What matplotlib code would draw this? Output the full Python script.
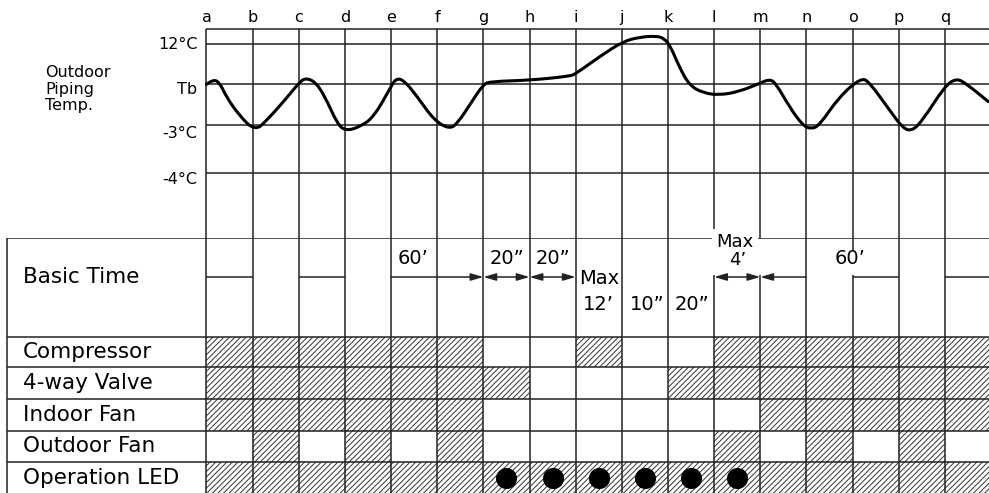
import numpy as np
import matplotlib.pyplot as plt
from matplotlib.path import Path
from matplotlib.patches import PathPatch

plt.rcParams['font.family'] = ['DejaVu Sans']
plt.rcParams['hatch.linewidth'] = 0.7

# time marks a..r (one unit per interval)
letters = list("abcdefghijklmnopqr")

# temperature levels (arbitrary level units)
temp_labels = ["12°C", "Tb", "-3°C", "-4°C"]
temp_lines = [3.0, 2.0, 1.0, -0.2]
temp_label_y = [3.0, 1.88, 0.79, -0.35]

# outdoor piping temperature
curve_x = [0, 0.15, 0.29, 0.43, 0.7, 1.05, 1.31, 1.7, 2.0, 2.14, 2.36, 2.57, 2.83,
           3.01, 3.34, 3.63, 3.96, 4.1, 4.28, 4.57, 4.93, 5.26, 5.44, 5.75, 6.0,
           6.16, 7.0, 7.87, 8.0, 8.52, 9.02, 9.38, 9.74, 9.92, 10.06, 10.24, 10.46,
           10.75, 11.11, 11.54, 11.98, 12.2, 12.34, 12.63, 12.92, 13.1, 13.28,
           13.71, 14.18, 14.36, 14.8, 15.09, 15.29, 15.52, 15.99, 16.24, 16.46, 16.94]
curve_y = [2.0, 2.13, 2.03, 1.69, 1.24, 0.84, 1.11, 1.61, 2.03, 2.16, 2.06, 1.69, 1.03,
           0.84, 0.95, 1.2, 1.86, 2.15, 2.1, 1.69, 1.11, 0.89, 1.03, 1.57, 2.0,
           2.07, 2.1, 2.2, 2.26, 2.69, 3.06, 3.17, 3.2, 3.14, 2.93, 2.44, 1.98,
           1.79, 1.73, 1.82, 2.02, 2.13, 2.02, 1.44, 0.98, 0.89, 0.98,
           1.69, 2.16, 2.06, 1.36, 0.91, 0.84, 1.11, 1.94, 2.15, 2.02, 1.57]

# table rows and on/off states per interval (a-b ... q-r)
row_names = ["Basic Time", "Compressor", "4-way Valve", "Indoor Fan",
             "Outdoor Fan", "Operation LED"]
compressor = [1, 1, 1, 1, 1, 1, 0, 0, 1, 0, 0, 1, 1, 1, 1, 1, 1]
four_way = [1, 1, 1, 1, 1, 1, 1, 0, 0, 0, 1, 1, 1, 1, 1, 1, 1]
indoor_fan = [1, 1, 1, 1, 1, 1, 0, 0, 0, 0, 0, 0, 1, 1, 1, 1, 1]
outdoor_fan = [0, 1, 0, 1, 0, 1, 0, 0, 0, 0, 0, 1, 0, 1, 0, 1, 0]
op_led = [1] * 17
led_blink = [0, 0, 0, 0, 0, 0, 1, 1, 1, 1, 1, 1, 0, 0, 0, 0, 0]

# basic time row: plain bars, arrows and texts
plain_bars = [(0, 1), (2, 3), (14, 15), (16, 17)]
arrows = [(4, 6, '-|>'), (6, 7, '<|-|>'), (7, 8, '<|-|>'), (11, 12, '<|-|>'), (13, 12, '-|>')]
time_texts = [(4.47, 21, "60’"), (6.5, 21, "20”"), (7.5, 21, "20”"),
              (8.5, 40, "Max"), (8.5, 66, "12’"), (9.55, 66, "10”"),
              (10.52, 66, "20”"), (13.94, 20, "60’")]

# layout (pixels of the 989x493 picture)
W, H = 989, 493
x0, unit = 206.5, 46.15
xlim = (-x0 / unit, (W - x0) / unit)
left_edge = (7 - x0) / unit
row_edges = [0, 99, 129, 161, 193, 224, 256]
lc = '#222222'
lw = 1.1

fig = plt.figure(figsize=(W / 100, H / 100), dpi=100)
ax_t = fig.add_axes([0, (H - 238) / H, 1, 238 / H])
ax_b = fig.add_axes([0, 0, 1, 255 / H])
for ax in (ax_t, ax_b):
    ax.set_xlim(*xlim)
    ax.axis('off')
    ax.patch.set_alpha(0)

# ---- temperature chart ----
top_line = 3.372
ax_t.set_ylim(-1.814, 4.092)
ax_t.vlines(range(18), -1.814, top_line, color=lc, lw=lw)
ax_t.hlines([top_line] + temp_lines, 0, 17.5, color=lc, lw=lw)

# smooth curve: quadratic bezier through the midpoints of the read points
pts = np.column_stack([curve_x, curve_y])
verts = [pts[0]]
codes = [Path.MOVETO]
for i in range(1, len(pts) - 1):
    verts += [pts[i], (pts[i] + pts[i + 1]) / 2]
    codes += [Path.CURVE3, Path.CURVE3]
verts.append(pts[-1])
codes.append(Path.LINETO)
ax_t.add_patch(PathPatch(Path(verts, codes), fill=False, ec='black', lw=2.2,
                         joinstyle='round', capstyle='round', zorder=3))

for lab, y in zip(temp_labels, temp_label_y):
    ax_t.text(-0.2, y, lab, ha='right', va='center', fontsize=11.5)
for i, s in enumerate(letters):
    ax_t.text(i, 3.67, s, ha='center', va='center', fontsize=11.5)
ax_t.text(-3.5, 1.88, "Outdoor\nPiping\nTemp.", ha='left', va='center',
          fontsize=11.5, linespacing=1.15)

# ---- table ----
ax_b.set_ylim(255, 0)
ax_b.hlines(row_edges[:-1], left_edge, 17.5, color=lc, lw=lw)
ax_b.vlines(left_edge, 0, 256, color=lc, lw=lw)
ax_b.vlines(range(18), 99, 256, color=lc, lw=lw)
for i in range(18):
    if i in (11, 12):
        segs = [(37, 99)]
    elif i == 14:
        segs = [(0, 12), (37, 99)]
    else:
        segs = [(0, 99)]
    for y1, y2 in segs:
        ax_b.vlines(i, y1, y2, color=lc, lw=lw)

bar_y = 39
for a, b in plain_bars:
    ax_b.hlines(bar_y, a, b, color=lc, lw=lw)
for a, b, style in arrows:
    ax_b.annotate('', xy=(b, bar_y), xytext=(a, bar_y),
                  arrowprops=dict(arrowstyle=style + ',head_length=0.75,head_width=0.22',
                                  mutation_scale=10, shrinkA=0, shrinkB=0,
                                  lw=lw, color=lc))
for x, y, s in time_texts:
    ax_b.text(x, y, s, ha='center', va='center', fontsize=14)
# white box breaks the table border behind "Max"
ax_b.text(11.45, 4.5, "Max", ha='center', va='center', fontsize=13, zorder=6,
          bbox=dict(boxstyle='square,pad=0.25', fc='white', ec='none'))
ax_b.text(11.5, 22, "4’", ha='center', va='center', fontsize=13, zorder=7)

states = [compressor, four_way, indoor_fan, outdoor_fan, op_led]
cells = np.arange(17)
for r, st in enumerate(states):
    on = np.array(st) == 1
    top = row_edges[r + 1]
    ax_b.bar(cells[on], row_edges[r + 2] - top, width=1, bottom=top, align='edge',
             fill=False, hatch='//////', edgecolor='#333333', linewidth=0)

blink = np.array(led_blink) == 1
ax_b.scatter(cells[blink] + 0.5, [240] * blink.sum(), s=200, color='black', zorder=5)

for r, name in enumerate(row_names):
    yc = 39 if r == 0 else (row_edges[r] + row_edges[r + 1]) / 2
    ax_b.text(left_edge + 0.35, yc, name, ha='left', va='center', fontsize=15.5)

fig.savefig("out.png", dpi=100)
